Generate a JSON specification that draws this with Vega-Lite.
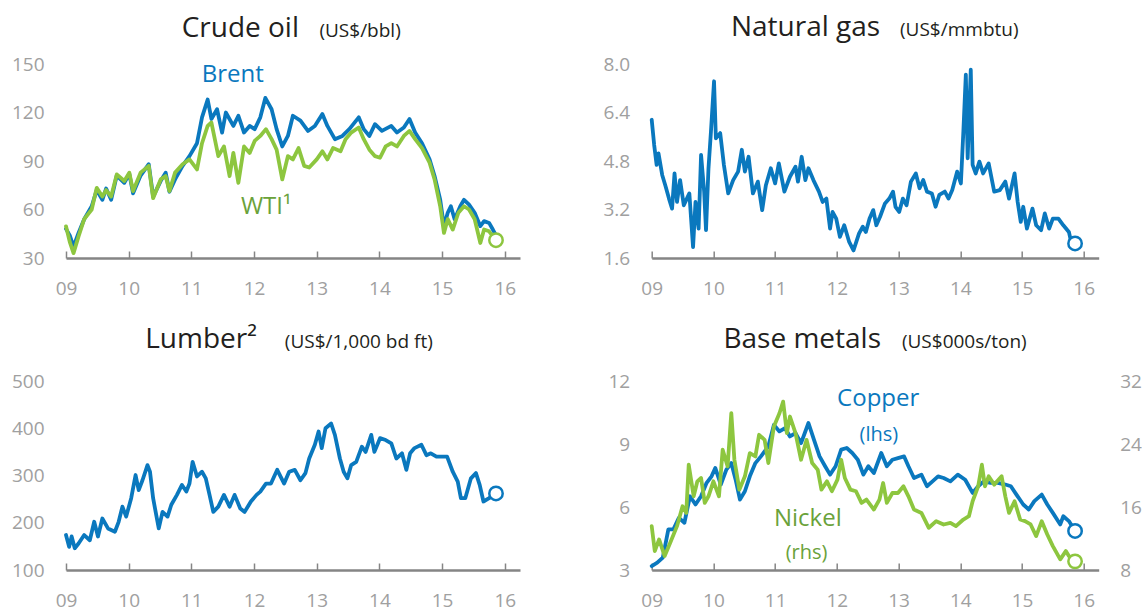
{
  "$schema": "https://vega.github.io/schema/vega-lite/v6.json",
  "background": "white",
  "padding": {"left": 11, "top": 14, "right": 0, "bottom": 6},
  "datasets": {
    "brent": [
      {"year":2009.00,"price":48},{"year":2009.06,"price":44},{"year":2009.12,"price":37},{"year":2009.20,"price":45.5},{"year":2009.29,"price":54},{"year":2009.41,"price":62},{"year":2009.49,"price":72},{"year":2009.58,"price":66},{"year":2009.64,"price":73},{"year":2009.72,"price":66},{"year":2009.81,"price":81},{"year":2009.93,"price":76.5},{"year":2010.01,"price":82},{"year":2010.07,"price":70},{"year":2010.19,"price":81},{"year":2010.32,"price":88},{"year":2010.39,"price":68},{"year":2010.51,"price":77.6},{"year":2010.59,"price":82.8},{"year":2010.65,"price":71},{"year":2010.74,"price":78.6},{"year":2010.86,"price":87},{"year":2010.97,"price":93},{"year":2011.09,"price":101},{"year":2011.17,"price":117},{"year":2011.26,"price":128},{"year":2011.32,"price":116},{"year":2011.41,"price":122},{"year":2011.49,"price":107.6},{"year":2011.55,"price":120},{"year":2011.67,"price":111.7},{"year":2011.75,"price":118},{"year":2011.84,"price":107.6},{"year":2011.93,"price":111.7},{"year":2012.01,"price":109.7},{"year":2012.10,"price":117},{"year":2012.18,"price":129},{"year":2012.28,"price":122},{"year":2012.36,"price":109.7},{"year":2012.45,"price":99},{"year":2012.54,"price":105.5},{"year":2012.62,"price":118},{"year":2012.74,"price":115},{"year":2012.86,"price":108.6},{"year":2012.97,"price":111.7},{"year":2013.09,"price":119},{"year":2013.17,"price":111.7},{"year":2013.29,"price":103.5},{"year":2013.41,"price":105.5},{"year":2013.52,"price":109.7},{"year":2013.67,"price":117},{"year":2013.75,"price":109.7},{"year":2013.84,"price":105.5},{"year":2013.93,"price":112.8},{"year":2014.04,"price":108.6},{"year":2014.19,"price":111.7},{"year":2014.28,"price":107.6},{"year":2014.39,"price":110.7},{"year":2014.48,"price":116},{"year":2014.57,"price":107.6},{"year":2014.68,"price":101},{"year":2014.80,"price":91},{"year":2014.88,"price":80.7},{"year":2014.97,"price":66},{"year":2015.03,"price":49.7},{"year":2015.09,"price":58},{"year":2015.14,"price":62},{"year":2015.20,"price":54},{"year":2015.29,"price":62},{"year":2015.35,"price":66},{"year":2015.43,"price":63},{"year":2015.52,"price":58},{"year":2015.61,"price":49.7},{"year":2015.67,"price":52.8},{"year":2015.75,"price":51.7},{"year":2015.81,"price":47.6},{"year":2015.86,"price":44}
    ],
    "wti": [
      {"year":2009.00,"price":49.6},{"year":2009.06,"price":40},{"year":2009.12,"price":33},{"year":2009.20,"price":43.4},{"year":2009.29,"price":54},{"year":2009.41,"price":60},{"year":2009.49,"price":73.4},{"year":2009.58,"price":68},{"year":2009.64,"price":72},{"year":2009.72,"price":68},{"year":2009.81,"price":81.7},{"year":2009.93,"price":77.6},{"year":2010.01,"price":82.8},{"year":2010.07,"price":71.4},{"year":2010.19,"price":82.8},{"year":2010.32,"price":87},{"year":2010.39,"price":67},{"year":2010.51,"price":78.6},{"year":2010.59,"price":80.7},{"year":2010.65,"price":71.4},{"year":2010.74,"price":82.8},{"year":2010.86,"price":88},{"year":2010.97,"price":91},{"year":2011.09,"price":84.8},{"year":2011.17,"price":101},{"year":2011.26,"price":111.7},{"year":2011.32,"price":113.8},{"year":2011.43,"price":93},{"year":2011.52,"price":99},{"year":2011.61,"price":80.7},{"year":2011.67,"price":95},{"year":2011.75,"price":76.5},{"year":2011.84,"price":99},{"year":2011.93,"price":95},{"year":2012.01,"price":102.4},{"year":2012.10,"price":105.5},{"year":2012.19,"price":109.7},{"year":2012.28,"price":103.5},{"year":2012.36,"price":97},{"year":2012.45,"price":78.6},{"year":2012.54,"price":93},{"year":2012.62,"price":91},{"year":2012.71,"price":98},{"year":2012.80,"price":87},{"year":2012.88,"price":86},{"year":2013.00,"price":91},{"year":2013.09,"price":96},{"year":2013.17,"price":91},{"year":2013.26,"price":98},{"year":2013.38,"price":96},{"year":2013.46,"price":103.5},{"year":2013.55,"price":107.6},{"year":2013.67,"price":110.7},{"year":2013.75,"price":103.5},{"year":2013.84,"price":97},{"year":2013.93,"price":93},{"year":2014.01,"price":92},{"year":2014.10,"price":99},{"year":2014.19,"price":101},{"year":2014.28,"price":99},{"year":2014.39,"price":105.5},{"year":2014.48,"price":108.6},{"year":2014.57,"price":103.5},{"year":2014.68,"price":98},{"year":2014.80,"price":89},{"year":2014.88,"price":78.6},{"year":2014.97,"price":62},{"year":2015.03,"price":45.5},{"year":2015.09,"price":54},{"year":2015.17,"price":47.6},{"year":2015.26,"price":58},{"year":2015.35,"price":62},{"year":2015.43,"price":60},{"year":2015.52,"price":54},{"year":2015.61,"price":39.3},{"year":2015.67,"price":47.6},{"year":2015.75,"price":46.5},{"year":2015.86,"price":41}
    ],
    "gas": [
      {"year":2009.00,"price":6.16},{"year":2009.04,"price":5.33},{"year":2009.08,"price":4.67},{"year":2009.11,"price":5.05},{"year":2009.17,"price":4.34},{"year":2009.22,"price":4.0},{"year":2009.28,"price":3.56},{"year":2009.33,"price":3.23},{"year":2009.37,"price":4.39},{"year":2009.41,"price":3.45},{"year":2009.46,"price":4.17},{"year":2009.52,"price":3.34},{"year":2009.57,"price":3.56},{"year":2009.61,"price":3.73},{"year":2009.67,"price":1.96},{"year":2009.71,"price":3.45},{"year":2009.76,"price":2.57},{"year":2009.80,"price":5.0},{"year":2009.85,"price":3.79},{"year":2009.88,"price":2.52},{"year":2009.92,"price":4.56},{"year":2009.96,"price":5.77},{"year":2010.01,"price":7.43},{"year":2010.04,"price":5.55},{"year":2010.11,"price":5.72},{"year":2010.17,"price":4.67},{"year":2010.24,"price":3.73},{"year":2010.32,"price":4.17},{"year":2010.40,"price":4.45},{"year":2010.46,"price":5.17},{"year":2010.51,"price":4.45},{"year":2010.57,"price":4.94},{"year":2010.64,"price":3.73},{"year":2010.72,"price":4.12},{"year":2010.79,"price":3.18},{"year":2010.85,"price":4.0},{"year":2010.93,"price":4.56},{"year":2011.00,"price":4.06},{"year":2011.06,"price":4.72},{"year":2011.15,"price":3.79},{"year":2011.24,"price":4.28},{"year":2011.33,"price":4.61},{"year":2011.37,"price":4.12},{"year":2011.43,"price":4.94},{"year":2011.49,"price":4.17},{"year":2011.54,"price":4.56},{"year":2011.62,"price":4.17},{"year":2011.71,"price":3.79},{"year":2011.77,"price":3.45},{"year":2011.83,"price":3.56},{"year":2011.89,"price":2.57},{"year":2011.93,"price":3.12},{"year":2011.99,"price":2.9},{"year":2012.05,"price":2.3},{"year":2012.12,"price":2.68},{"year":2012.20,"price":2.13},{"year":2012.27,"price":1.85},{"year":2012.36,"price":2.41},{"year":2012.42,"price":2.63},{"year":2012.47,"price":2.46},{"year":2012.53,"price":2.9},{"year":2012.59,"price":3.18},{"year":2012.64,"price":2.68},{"year":2012.70,"price":2.96},{"year":2012.78,"price":3.4},{"year":2012.85,"price":3.56},{"year":2012.91,"price":3.79},{"year":2012.95,"price":3.29},{"year":2013.01,"price":3.12},{"year":2013.07,"price":3.56},{"year":2013.13,"price":3.34},{"year":2013.20,"price":4.12},{"year":2013.28,"price":4.39},{"year":2013.34,"price":3.9},{"year":2013.40,"price":4.17},{"year":2013.46,"price":3.79},{"year":2013.54,"price":3.73},{"year":2013.60,"price":3.29},{"year":2013.66,"price":3.68},{"year":2013.75,"price":3.79},{"year":2013.81,"price":3.56},{"year":2013.87,"price":3.84},{"year":2013.95,"price":4.45},{"year":2014.01,"price":4.06},{"year":2014.05,"price":5.77},{"year":2014.09,"price":7.65},{"year":2014.12,"price":4.89},{"year":2014.17,"price":7.81},{"year":2014.20,"price":4.67},{"year":2014.25,"price":4.39},{"year":2014.31,"price":4.78},{"year":2014.37,"price":4.39},{"year":2014.46,"price":4.72},{"year":2014.55,"price":3.79},{"year":2014.64,"price":3.84},{"year":2014.73,"price":4.12},{"year":2014.79,"price":3.56},{"year":2014.88,"price":4.39},{"year":2014.93,"price":3.45},{"year":2014.98,"price":2.79},{"year":2015.02,"price":3.29},{"year":2015.08,"price":2.57},{"year":2015.17,"price":3.23},{"year":2015.23,"price":2.68},{"year":2015.31,"price":2.52},{"year":2015.37,"price":3.07},{"year":2015.44,"price":2.57},{"year":2015.50,"price":2.9},{"year":2015.59,"price":2.9},{"year":2015.67,"price":2.68},{"year":2015.76,"price":2.46},{"year":2015.80,"price":2.1},{"year":2015.86,"price":2.08}
    ],
    "lumber": [
      {"year":2009.00,"price":174},{"year":2009.05,"price":149},{"year":2009.09,"price":171},{"year":2009.14,"price":146},{"year":2009.20,"price":156},{"year":2009.29,"price":174},{"year":2009.38,"price":163},{"year":2009.45,"price":202},{"year":2009.51,"price":171},{"year":2009.58,"price":209},{"year":2009.67,"price":188},{"year":2009.78,"price":181},{"year":2009.84,"price":202},{"year":2009.90,"price":234},{"year":2009.96,"price":213},{"year":2010.04,"price":252},{"year":2010.11,"price":301},{"year":2010.16,"price":269},{"year":2010.22,"price":290},{"year":2010.30,"price":322},{"year":2010.34,"price":308},{"year":2010.39,"price":252},{"year":2010.44,"price":216},{"year":2010.48,"price":188},{"year":2010.54,"price":223},{"year":2010.62,"price":213},{"year":2010.68,"price":238},{"year":2010.77,"price":259},{"year":2010.85,"price":280},{"year":2010.92,"price":266},{"year":2010.97,"price":283},{"year":2011.02,"price":329},{"year":2011.09,"price":298},{"year":2011.17,"price":308},{"year":2011.23,"price":294},{"year":2011.29,"price":259},{"year":2011.35,"price":223},{"year":2011.43,"price":234},{"year":2011.52,"price":259},{"year":2011.61,"price":234},{"year":2011.69,"price":259},{"year":2011.78,"price":230},{"year":2011.85,"price":223},{"year":2011.95,"price":245},{"year":2012.04,"price":259},{"year":2012.10,"price":266},{"year":2012.19,"price":283},{"year":2012.27,"price":283},{"year":2012.37,"price":312},{"year":2012.48,"price":283},{"year":2012.56,"price":308},{"year":2012.65,"price":312},{"year":2012.74,"price":290},{"year":2012.82,"price":305},{"year":2012.88,"price":336},{"year":2012.97,"price":365},{"year":2013.03,"price":393},{"year":2013.08,"price":358},{"year":2013.14,"price":400},{"year":2013.23,"price":410},{"year":2013.29,"price":386},{"year":2013.37,"price":336},{"year":2013.43,"price":308},{"year":2013.49,"price":294},{"year":2013.55,"price":322},{"year":2013.63,"price":329},{"year":2013.72,"price":361},{"year":2013.78,"price":350},{"year":2013.87,"price":386},{"year":2013.92,"price":350},{"year":2014.01,"price":379},{"year":2014.10,"price":375},{"year":2014.19,"price":368},{"year":2014.27,"price":336},{"year":2014.36,"price":347},{"year":2014.43,"price":312},{"year":2014.49,"price":347},{"year":2014.56,"price":358},{"year":2014.67,"price":365},{"year":2014.75,"price":343},{"year":2014.82,"price":347},{"year":2014.91,"price":340},{"year":2014.99,"price":340},{"year":2015.08,"price":340},{"year":2015.17,"price":308},{"year":2015.25,"price":287},{"year":2015.30,"price":252},{"year":2015.37,"price":252},{"year":2015.46,"price":294},{"year":2015.54,"price":305},{"year":2015.60,"price":280},{"year":2015.66,"price":245},{"year":2015.75,"price":252},{"year":2015.86,"price":262}
    ],
    "copper": [
      {"year":2009.00,"price":3.19},{"year":2009.09,"price":3.35},{"year":2009.18,"price":3.59},{"year":2009.27,"price":4.93},{"year":2009.35,"price":4.93},{"year":2009.44,"price":5.48},{"year":2009.53,"price":5.25},{"year":2009.62,"price":6.51},{"year":2009.71,"price":6.12},{"year":2009.80,"price":6.51},{"year":2009.89,"price":7.15},{"year":2009.97,"price":7.46},{"year":2010.03,"price":7.86},{"year":2010.12,"price":7.07},{"year":2010.21,"price":7.78},{"year":2010.29,"price":8.09},{"year":2010.36,"price":7.3},{"year":2010.43,"price":6.35},{"year":2010.51,"price":6.75},{"year":2010.59,"price":7.46},{"year":2010.68,"price":8.09},{"year":2010.77,"price":8.41},{"year":2010.89,"price":8.89},{"year":2010.98,"price":9.91},{"year":2011.07,"price":9.6},{"year":2011.16,"price":9.76},{"year":2011.24,"price":9.36},{"year":2011.33,"price":9.52},{"year":2011.42,"price":9.04},{"year":2011.54,"price":10.0},{"year":2011.63,"price":9.2},{"year":2011.72,"price":8.41},{"year":2011.81,"price":7.94},{"year":2011.89,"price":7.54},{"year":2011.98,"price":7.94},{"year":2012.07,"price":8.73},{"year":2012.16,"price":8.81},{"year":2012.25,"price":8.57},{"year":2012.34,"price":8.25},{"year":2012.43,"price":7.54},{"year":2012.51,"price":7.94},{"year":2012.60,"price":7.62},{"year":2012.72,"price":8.57},{"year":2012.81,"price":7.94},{"year":2012.90,"price":8.25},{"year":2012.99,"price":8.33},{"year":2013.09,"price":8.41},{"year":2013.16,"price":7.94},{"year":2013.25,"price":7.38},{"year":2013.37,"price":7.54},{"year":2013.46,"price":6.99},{"year":2013.55,"price":7.22},{"year":2013.64,"price":7.46},{"year":2013.73,"price":7.38},{"year":2013.84,"price":7.22},{"year":2013.96,"price":7.54},{"year":2014.08,"price":7.3},{"year":2014.20,"price":6.67},{"year":2014.29,"price":6.99},{"year":2014.38,"price":7.22},{"year":2014.49,"price":7.15},{"year":2014.61,"price":7.15},{"year":2014.73,"price":7.07},{"year":2014.82,"price":6.99},{"year":2014.91,"price":6.59},{"year":2015.02,"price":6.12},{"year":2015.11,"price":5.88},{"year":2015.20,"price":6.28},{"year":2015.32,"price":6.59},{"year":2015.41,"price":6.12},{"year":2015.50,"price":5.72},{"year":2015.62,"price":5.17},{"year":2015.67,"price":5.56},{"year":2015.76,"price":5.33},{"year":2015.86,"price":4.86}
    ],
    "nickel": [
      {"year":2009.00,"price":13.57},{"year":2009.05,"price":10.4},{"year":2009.12,"price":11.88},{"year":2009.21,"price":9.77},{"year":2009.30,"price":11.46},{"year":2009.41,"price":13.57},{"year":2009.50,"price":16.1},{"year":2009.56,"price":15.25},{"year":2009.60,"price":21.37},{"year":2009.68,"price":17.36},{"year":2009.74,"price":19.26},{"year":2009.80,"price":19.68},{"year":2009.86,"price":16.52},{"year":2009.92,"price":17.36},{"year":2010.00,"price":19.26},{"year":2010.09,"price":17.36},{"year":2010.15,"price":23.27},{"year":2010.23,"price":21.16},{"year":2010.29,"price":27.91},{"year":2010.34,"price":22.0},{"year":2010.42,"price":18.2},{"year":2010.51,"price":19.9},{"year":2010.59,"price":22.85},{"year":2010.68,"price":22.42},{"year":2010.74,"price":25.17},{"year":2010.83,"price":24.53},{"year":2010.89,"price":21.58},{"year":2010.98,"price":26.22},{"year":2011.07,"price":27.91},{"year":2011.13,"price":29.38},{"year":2011.19,"price":25.38},{"year":2011.24,"price":27.49},{"year":2011.33,"price":25.38},{"year":2011.42,"price":22.0},{"year":2011.51,"price":24.53},{"year":2011.60,"price":21.58},{"year":2011.69,"price":20.74},{"year":2011.75,"price":18.2},{"year":2011.84,"price":19.26},{"year":2011.92,"price":18.0},{"year":2012.01,"price":19.47},{"year":2012.07,"price":22.0},{"year":2012.13,"price":19.68},{"year":2012.22,"price":18.2},{"year":2012.31,"price":18.0},{"year":2012.40,"price":16.52},{"year":2012.48,"price":16.94},{"year":2012.60,"price":15.68},{"year":2012.69,"price":16.94},{"year":2012.75,"price":19.05},{"year":2012.81,"price":16.52},{"year":2012.90,"price":17.78},{"year":2012.99,"price":17.78},{"year":2013.08,"price":18.63},{"year":2013.16,"price":17.36},{"year":2013.25,"price":15.68},{"year":2013.37,"price":15.25},{"year":2013.49,"price":13.36},{"year":2013.61,"price":14.2},{"year":2013.73,"price":13.78},{"year":2013.84,"price":13.99},{"year":2013.93,"price":13.57},{"year":2014.05,"price":14.41},{"year":2014.14,"price":14.83},{"year":2014.20,"price":16.73},{"year":2014.29,"price":18.63},{"year":2014.35,"price":21.37},{"year":2014.40,"price":18.63},{"year":2014.46,"price":19.9},{"year":2014.55,"price":18.84},{"year":2014.67,"price":19.9},{"year":2014.73,"price":17.36},{"year":2014.79,"price":15.25},{"year":2014.88,"price":16.73},{"year":2014.97,"price":14.41},{"year":2015.05,"price":14.2},{"year":2015.14,"price":13.78},{"year":2015.23,"price":12.3},{"year":2015.32,"price":14.2},{"year":2015.41,"price":12.51},{"year":2015.50,"price":11.04},{"year":2015.62,"price":9.35},{"year":2015.71,"price":10.4},{"year":2015.76,"price":9.77},{"year":2015.86,"price":9.1}
    ]
  },
  "columns": 2,
  "bounds": "flush",
  "spacing": {"row": 123, "column": 131.7},
  "concat": [
    {
      "width": 454, "height": 194,
      "title": {"text": "Crude oil", "dx": -221},
      "layer": [
        {"data": {"name": "brent"}, "mark": {"type": "line", "color": "#0a78be"},
         "encoding": {
           "x": {"field": "year", "type": "quantitative", "scale": {"domain": [2009, 2016.243], "nice": false, "zero": false}, "axis": {"values": [2009,2010,2011,2012,2013,2014,2015,2016], "labelExpr": "format(datum.value - 2000, '02d')", "title": null}},
           "y": {"field": "price", "type": "quantitative", "scale": {"domain": [30, 150], "nice": false, "zero": false}, "axis": {"values": [30,60,90,120,150], "title": "(US$/bbl)", "titleX": 252.9, "titleY": -28}}}},
        {"data": {"name": "wti"}, "mark": {"type": "line", "color": "#8dc63f"},
         "encoding": {"x": {"field": "year", "type": "quantitative"}, "y": {"field": "price", "type": "quantitative"}}},
        {"data": {"name": "wti"},
         "transform": [{"joinaggregate": [{"op": "max", "field": "year", "as": "last"}]}, {"filter": "datum.year == datum.last"}],
         "mark": {"type": "point", "shape": "circle", "size": 180, "filled": true, "fill": "white", "stroke": "#8dc63f", "strokeWidth": 2.5, "opacity": 1},
         "encoding": {"x": {"field": "year", "type": "quantitative"}, "y": {"field": "price", "type": "quantitative"}}},
        {"data": {"values": [{}]}, "mark": {"type": "text", "text": "Brent", "font": "Open Sans", "fontSize": 24, "color": "#0a78be", "align": "center", "baseline": "alphabetic"},
         "encoding": {"x": {"datum": 2011.66}, "y": {"datum": 139.05}}},
        {"data": {"values": [{}]}, "mark": {"type": "text", "text": "WTI¹", "font": "Open Sans", "fontSize": 24, "color": "#6aa23a", "align": "left", "baseline": "alphabetic"},
         "encoding": {"x": {"datum": 2011.79}, "y": {"datum": 57.2}}}
      ]
    },
    {
      "width": 447, "height": 194,
      "title": {"text": "Natural gas", "dx": -218.5},
      "layer": [
        {"data": {"name": "gas"}, "mark": {"type": "line", "color": "#0a78be"},
         "encoding": {
           "x": {"field": "year", "type": "quantitative", "scale": {"domain": [2009, 2016.243], "nice": false, "zero": false}, "axis": {"values": [2009,2010,2011,2012,2013,2014,2015,2016], "labelExpr": "format(datum.value - 2000, '02d')", "title": null}},
           "y": {"field": "price", "type": "quantitative", "scale": {"domain": [1.6, 8.0], "nice": false, "zero": false}, "axis": {"values": [1.6,3.2,4.8,6.4,8.0], "format": ".1f", "title": "(US$/mmbtu)", "titleX": 247.8, "titleY": -29}}}},
        {"data": {"name": "gas"},
         "transform": [{"joinaggregate": [{"op": "max", "field": "year", "as": "last"}]}, {"filter": "datum.year == datum.last"}],
         "mark": {"type": "point", "shape": "circle", "size": 180, "filled": true, "fill": "white", "stroke": "#0a78be", "strokeWidth": 2.5, "opacity": 1},
         "encoding": {"x": {"field": "year", "type": "quantitative"}, "y": {"field": "price", "type": "quantitative"}}}
      ]
    },
    {
      "width": 454, "height": 189,
      "title": {"text": "Lumber²", "dx": -263},
      "layer": [
        {"data": {"name": "lumber"}, "mark": {"type": "line", "color": "#0a78be"},
         "encoding": {
           "x": {"field": "year", "type": "quantitative", "scale": {"domain": [2009, 2016.243], "nice": false, "zero": false}, "axis": {"values": [2009,2010,2011,2012,2013,2014,2015,2016], "labelExpr": "format(datum.value - 2000, '02d')", "title": null}},
           "y": {"field": "price", "type": "quantitative", "scale": {"domain": [100, 500], "nice": false, "zero": false}, "axis": {"values": [100,200,300,400,500], "title": "(US$/1,000 bd ft)", "titleX": 218.3, "titleY": -33.7}}}},
        {"data": {"name": "lumber"},
         "transform": [{"joinaggregate": [{"op": "max", "field": "year", "as": "last"}]}, {"filter": "datum.year == datum.last"}],
         "mark": {"type": "point", "shape": "circle", "size": 180, "filled": true, "fill": "white", "stroke": "#0a78be", "strokeWidth": 2.5, "opacity": 1},
         "encoding": {"x": {"field": "year", "type": "quantitative"}, "y": {"field": "price", "type": "quantitative"}}}
      ]
    },
    {
      "width": 447, "height": 189,
      "title": {"text": "Base metals", "dx": -217.7},
      "layer": [
        {
          "layer": [
            {"data": {"name": "copper"}, "mark": {"type": "line", "color": "#0a78be"},
             "encoding": {
               "x": {"field": "year", "type": "quantitative", "scale": {"domain": [2009, 2016.243], "nice": false, "zero": false}, "axis": {"values": [2009,2010,2011,2012,2013,2014,2015,2016], "labelExpr": "format(datum.value - 2000, '02d')", "title": null}},
               "y": {"field": "price", "type": "quantitative", "scale": {"domain": [3, 12], "nice": false, "zero": false}, "axis": {"values": [3,6,9,12], "title": "(US$000s/ton)", "titleX": 249.7, "titleY": -33.7}}}},
            {"data": {"name": "copper"},
             "transform": [{"joinaggregate": [{"op": "max", "field": "year", "as": "last"}]}, {"filter": "datum.year == datum.last"}],
             "mark": {"type": "point", "shape": "circle", "size": 180, "filled": true, "fill": "white", "stroke": "#0a78be", "strokeWidth": 2.5, "opacity": 1},
             "encoding": {"x": {"field": "year", "type": "quantitative"}, "y": {"field": "price", "type": "quantitative"}}},
            {"data": {"values": [{}]}, "mark": {"type": "text", "text": "Copper", "font": "Open Sans", "fontSize": 24, "color": "#0a78be", "align": "center", "baseline": "alphabetic"},
             "encoding": {"x": {"datum": 2012.67}, "y": {"datum": 10.82}}},
            {"data": {"values": [{}]}, "mark": {"type": "text", "text": "(lhs)", "font": "Open Sans", "fontSize": 20, "color": "#0a78be", "align": "center", "baseline": "alphabetic"},
             "encoding": {"x": {"datum": 2012.68}, "y": {"datum": 9.16}}},
            {"data": {"values": [{}]}, "mark": {"type": "text", "text": "Nickel", "font": "Open Sans", "fontSize": 24, "color": "#6aa23a", "align": "center", "baseline": "alphabetic"},
             "encoding": {"x": {"datum": 2011.53}, "y": {"datum": 5.11}}},
            {"data": {"values": [{}]}, "mark": {"type": "text", "text": "(rhs)", "font": "Open Sans", "fontSize": 20, "color": "#6aa23a", "align": "center", "baseline": "alphabetic"},
             "encoding": {"x": {"datum": 2011.51}, "y": {"datum": 3.52}}}
          ]
        },
        {
          "layer": [
            {"data": {"name": "nickel"}, "mark": {"type": "line", "color": "#8dc63f"},
             "encoding": {
               "x": {"field": "year", "type": "quantitative"},
               "y": {"field": "price", "type": "quantitative", "scale": {"domain": [8, 32], "nice": false, "zero": false}, "axis": {"orient": "right", "values": [8,16,24,32], "title": null, "labelPadding": 21}}}},
            {"data": {"name": "nickel"},
             "transform": [{"joinaggregate": [{"op": "max", "field": "year", "as": "last"}]}, {"filter": "datum.year == datum.last"}],
             "mark": {"type": "point", "shape": "circle", "size": 180, "filled": true, "fill": "white", "stroke": "#8dc63f", "strokeWidth": 2.5, "opacity": 1},
             "encoding": {"x": {"field": "year", "type": "quantitative"}, "y": {"field": "price", "type": "quantitative"}}}
          ]
        }
      ],
      "resolve": {"scale": {"y": "independent"}}
    }
  ],
  "config": {
    "view": {"stroke": null},
    "font": "Open Sans",
    "line": {"strokeWidth": 3.8, "strokeJoin": "round", "strokeCap": "round"},
    "title": {"font": "Open Sans", "fontSize": 28, "fontWeight": "normal", "color": "#231f20", "anchor": "end", "frame": "group", "baseline": "alphabetic", "offset": -22},
    "axis": {"labelFont": "Open Sans", "labelFontSize": 19, "labelColor": "#a0a0a0", "grid": false, "titleFont": "Open Sans", "titleFontSize": 19, "titleFontWeight": "normal", "titleColor": "#231f20", "labelFlush": false, "labelOverlap": false},
    "axisX": {"domainColor": "#858585", "domainWidth": 2.5, "tickColor": "#858585", "tickWidth": 1.5, "tickSize": -7, "labelPadding": 43, "labelBaseline": "alphabetic"},
    "axisY": {"domain": false, "ticks": false, "labelPadding": 22, "titleAngle": 0, "titleAlign": "left", "titleBaseline": "alphabetic"}
  }
}
